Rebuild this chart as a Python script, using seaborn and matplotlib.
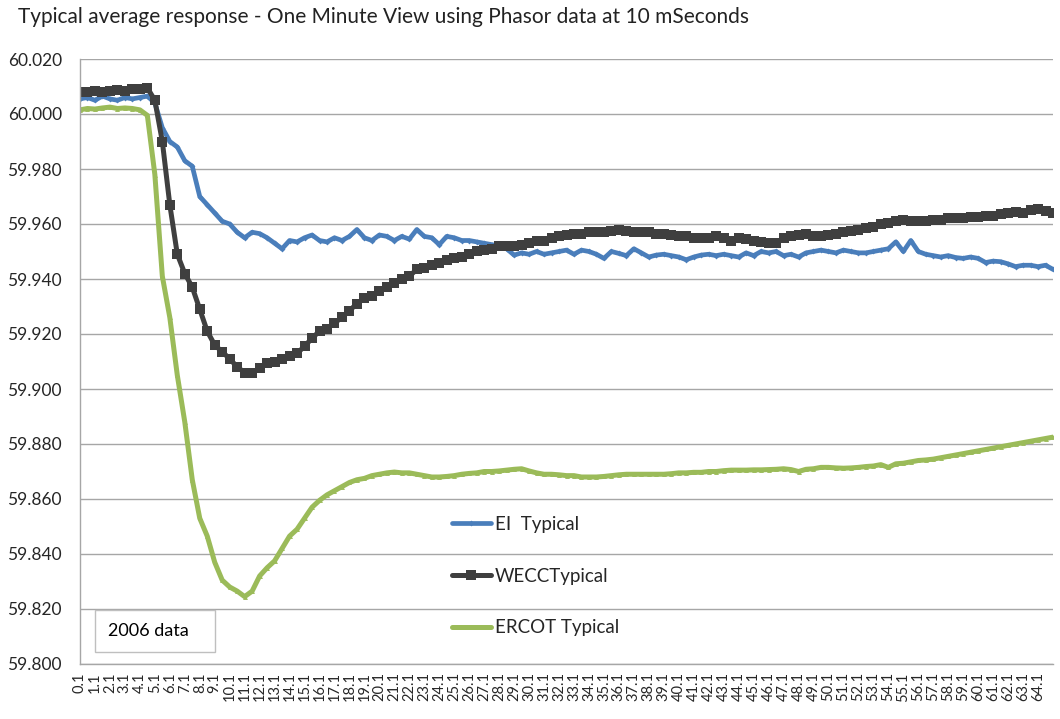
import matplotlib
matplotlib.use('Agg')
import matplotlib.pyplot as plt
from matplotlib.patches import Rectangle
from matplotlib.ticker import FixedLocator
import numpy as np
import seaborn as sns

# seconds, one reading every half second
time_s = np.round(np.arange(131) * 0.5 + 0.1, 1)

ei_typical = [
    60.0055, 60.0060, 60.0050, 60.0065, 60.0055, 60.0050, 60.0060, 60.0055, 60.0060, 60.0065,
    60.0040, 59.9950, 59.9900, 59.9880, 59.9830, 59.9810, 59.9700, 59.9670, 59.9640, 59.9610,
    59.9600, 59.9570, 59.9550, 59.9570, 59.9565, 59.9550, 59.9530, 59.9510, 59.9540, 59.9535,
    59.9550, 59.9560, 59.9540, 59.9535, 59.9550, 59.9540, 59.9555, 59.9580, 59.9550, 59.9540,
    59.9560, 59.9555, 59.9540, 59.9555, 59.9545, 59.9580, 59.9555, 59.9550, 59.9525, 59.9555,
    59.9550, 59.9540, 59.9540, 59.9535, 59.9530, 59.9525, 59.9520, 59.9510, 59.9487, 59.9495,
    59.9490, 59.9500, 59.9490, 59.9495, 59.9500, 59.9505, 59.9490, 59.9505, 59.9500, 59.9490,
    59.9475, 59.9500, 59.9493, 59.9485, 59.9510, 59.9495, 59.9480, 59.9487, 59.9490, 59.9485,
    59.9480, 59.9470, 59.9480, 59.9487, 59.9490, 59.9485, 59.9490, 59.9485, 59.9480, 59.9495,
    59.9485, 59.9500, 59.9495, 59.9500, 59.9485, 59.9490, 59.9480, 59.9495, 59.9500, 59.9505,
    59.9500, 59.9495, 59.9505, 59.9500, 59.9495, 59.9495, 59.9500, 59.9505, 59.9510, 59.9535,
    59.9500, 59.9540, 59.9500, 59.9490, 59.9485, 59.9480, 59.9485, 59.9478, 59.9475, 59.9480,
    59.9475, 59.9460, 59.9465, 59.9463, 59.9455, 59.9445, 59.9450, 59.9450, 59.9445, 59.9450,
    59.9435,
]

wecc_typical = [
    60.0080, 60.0080, 60.0085, 60.0080, 60.0085, 60.0088, 60.0085, 60.0090, 60.0090, 60.0095,
    60.0050, 59.9900, 59.9670, 59.9490, 59.9420, 59.9370, 59.9290, 59.9210, 59.9160, 59.9135,
    59.9110, 59.9080, 59.9060, 59.9060, 59.9075, 59.9095, 59.9100, 59.9110, 59.9120, 59.9130,
    59.9155, 59.9185, 59.9210, 59.9220, 59.9240, 59.9260, 59.9285, 59.9310, 59.9330, 59.9340,
    59.9355, 59.9370, 59.9385, 59.9400, 59.9410, 59.9435, 59.9440, 59.9450, 59.9460, 59.9470,
    59.9475, 59.9480, 59.9490, 59.9500, 59.9505, 59.9510, 59.9520, 59.9520, 59.9520, 59.9525,
    59.9530, 59.9540, 59.9540, 59.9550, 59.9555, 59.9560, 59.9565, 59.9565, 59.9570, 59.9570,
    59.9570, 59.9575, 59.9580, 59.9575, 59.9570, 59.9570, 59.9570, 59.9565, 59.9565, 59.9560,
    59.9555, 59.9555, 59.9550, 59.9550, 59.9550, 59.9555, 59.9550, 59.9540, 59.9550, 59.9545,
    59.9540, 59.9535, 59.9530, 59.9530, 59.9550, 59.9555, 59.9560, 59.9565, 59.9555, 59.9555,
    59.9560, 59.9565, 59.9570, 59.9575, 59.9580, 59.9585, 59.9590, 59.9600, 59.9605, 59.9610,
    59.9615, 59.9610, 59.9610, 59.9612, 59.9615, 59.9615, 59.9620, 59.9620, 59.9620, 59.9625,
    59.9625, 59.9630, 59.9630, 59.9635, 59.9640, 59.9645, 59.9640, 59.9650, 59.9655, 59.9648,
    59.9640,
]

ercot_typical = [
    60.0015, 60.0020, 60.0018, 60.0022, 60.0025, 60.0020, 60.0022, 60.0020, 60.0015, 59.9995,
    59.9780, 59.9410, 59.9260, 59.9050, 59.8880, 59.8670, 59.8530, 59.8465, 59.8370, 59.8305,
    59.8280, 59.8265, 59.8245, 59.8265, 59.8320, 59.8350, 59.8375, 59.8420, 59.8465, 59.8490,
    59.8530, 59.8570, 59.8595, 59.8615, 59.8630, 59.8645, 59.8660, 59.8670, 59.8675, 59.8685,
    59.8690, 59.8695, 59.8698, 59.8695, 59.8695, 59.8690, 59.8685, 59.8680, 59.8680, 59.8682,
    59.8685, 59.8690, 59.8693, 59.8695, 59.8700, 59.8700, 59.8702, 59.8705, 59.8708, 59.8710,
    59.8702, 59.8695, 59.8690, 59.8690, 59.8688, 59.8685, 59.8685, 59.8680, 59.8680, 59.8680,
    59.8682, 59.8685, 59.8688, 59.8690, 59.8690, 59.8690, 59.8690, 59.8690, 59.8690, 59.8692,
    59.8695, 59.8695, 59.8697, 59.8697, 59.8700, 59.8700, 59.8703, 59.8705, 59.8705, 59.8705,
    59.8706, 59.8706, 59.8707, 59.8708, 59.8710, 59.8707, 59.8700, 59.8708, 59.8710, 59.8715,
    59.8715, 59.8713, 59.8712, 59.8713, 59.8715, 59.8718, 59.8720, 59.8725, 59.8715, 59.8728,
    59.8730, 59.8735, 59.8740, 59.8742, 59.8745, 59.8750, 59.8755, 59.8760, 59.8765, 59.8770,
    59.8775, 59.8780, 59.8785, 59.8790, 59.8795, 59.8800, 59.8805, 59.8810, 59.8815, 59.8820,
    59.8825,
]

series_names = ['EI  Typical', 'WECCTypical', 'ERCOT Typical']
series_colors = ['#4A7EBB', '#3F3F3F', '#9BBB59']
label_seconds = [f'{k}.1' for k in range(65)]
y_ticks = [59.80, 59.82, 59.84, 59.86, 59.88, 59.90, 59.92, 59.94, 59.96, 59.98, 60.00, 60.02]

sns.set_style('white')
plt.rcParams['font.family'] = ['Lato', 'DejaVu Sans']

fig = plt.figure(figsize=(10.6, 7.19), dpi=100)
ax = fig.add_axes([80 / 1060, 55 / 719, 973 / 1060, 605 / 719])

sns.lineplot(x=time_s, y=ei_typical, ax=ax, color=series_colors[0], lw=3.4,
             marker='D', markersize=3, markeredgewidth=0, label=series_names[0])
sns.lineplot(x=time_s, y=wecc_typical, ax=ax, color=series_colors[1], lw=3.6,
             marker='s', markersize=6.5, markeredgewidth=0, label=series_names[1])
sns.lineplot(x=time_s, y=ercot_typical, ax=ax, color=series_colors[2], lw=3.6,
             marker='^', markersize=3.5, markeredgewidth=0, label=series_names[2])

ax.set_xlim(0.1, 65.1)
ax.set_ylim(59.80, 60.02)
ax.set_yticks(y_ticks)
ax.set_yticklabels([f'{v:.3f}' for v in y_ticks], fontsize=12.5)
ax.set_xticks([0.1 + k for k in range(65)])
ax.set_xticklabels(label_seconds, rotation=90, fontsize=10.5)
ax.xaxis.set_minor_locator(FixedLocator([0.1 + 2 * k for k in range(33)]))
ax.tick_params(axis='x', which='major', length=0, pad=6)
ax.tick_params(axis='x', which='minor', length=5, color='#A6A6A6', width=1, direction='out')
ax.tick_params(axis='y', length=5, color='#A6A6A6', width=1, direction='out', pad=8)
ax.yaxis.grid(True, color='#A6A6A6', lw=1)
ax.set_axisbelow(True)
for side in ['top', 'right']:
    ax.spines[side].set_visible(False)
for side in ['left', 'bottom']:
    ax.spines[side].set_color('#A6A6A6')
    ax.spines[side].set_linewidth(1)
ax.set_xlabel('')
ax.set_ylabel('')

ax.legend(loc='upper left', bbox_to_anchor=(0.382, 0.2446), frameon=False,
          borderaxespad=0, borderpad=0, handlelength=2.1, handletextpad=0.2,
          labelspacing=1.85, fontsize=13.5)

ax.add_patch(Rectangle((0.0154, 0.0198), 0.1233, 0.0695, transform=ax.transAxes,
                       fill=False, edgecolor='#BFBFBF', lw=1))
ax.text(0.029, 0.0545, '2006 data', transform=ax.transAxes, va='center', ha='left',
        fontsize=13, color='black')

fig.text(18 / 1060, 1 - 7 / 719, 'Typical average response - One Minute View using Phasor data at 10 mSeconds',
         ha='left', va='top', fontsize=15, color='#222222')

fig.savefig('out.png', dpi=100)
